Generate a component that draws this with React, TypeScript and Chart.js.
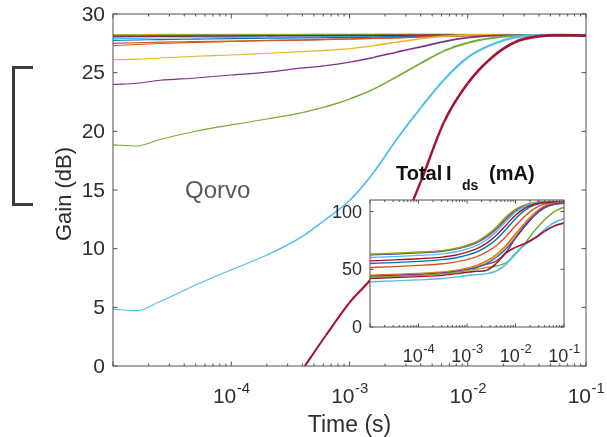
import React, { useEffect, useRef } from "react";
import { Chart, registerables } from "chart.js";

Chart.register(...registerables);

const W = 607;
const H = 437;
const FONT = '"Liberation Sans", Arial, Helvetica, sans-serif';
const AXIS_COLOR = "#505050";
const TEXT_COLOR = "#2e2e2e";

// MATLAB default colour order
const BLUE = "#0072BD";
const ORANGE = "#D95319";
const YELLOW = "#EDB120";
const PURPLE = "#7E2F8E";
const GREEN = "#77AC30";
const CYAN = "#4DBEEE";
const RED = "#A2142F";

// ---- main plot: gain vs time ----
const gainTimes = [
  1e-5, 1.6e-5, 2.5e-5, 5e-5, 1e-4, 2e-4, 4e-4, 6.3e-4, 1e-3, 1.6e-3,
  2.5e-3, 4e-3, 6.3e-3, 1e-2, 1.6e-2, 2.5e-2, 4e-2, 6.3e-2, 1e-1,
];
const gainBlue1 = [28.05, 28.06, 28.08, 28.1, 28.1, 28.12, 28.13, 28.14, 28.15, 28.16, 28.18, 28.2, 28.2, 28.2, 28.2, 28.2, 28.2, 28.18, 28.15];
const gainOrange1 = [27.3, 27.4, 27.48, 27.58, 27.65, 27.72, 27.78, 27.82, 27.86, 27.92, 27.98, 28.05, 28.12, 28.18, 28.2, 28.2, 28.2, 28.18, 28.15];
const gainYellow1 = [28.25, 28.25, 28.26, 28.26, 28.27, 28.27, 28.27, 28.28, 28.28, 28.28, 28.28, 28.28, 28.27, 28.25, 28.23, 28.22, 28.2, 28.2, 28.18];
const gainPurple1 = [28.15, 28.15, 28.16, 28.17, 28.18, 28.18, 28.19, 28.2, 28.2, 28.2, 28.21, 28.22, 28.22, 28.22, 28.21, 28.2, 28.2, 28.18, 28.16];
const gainGreen1 = [28.2, 28.2, 28.21, 28.22, 28.22, 28.23, 28.23, 28.24, 28.24, 28.24, 28.24, 28.24, 28.23, 28.22, 28.21, 28.2, 28.2, 28.18, 28.16];
const gainCyan1 = [27.9, 27.92, 27.95, 27.98, 28.0, 28.03, 28.05, 28.07, 28.09, 28.11, 28.13, 28.16, 28.18, 28.2, 28.2, 28.2, 28.2, 28.18, 28.15];
const gainRed1 = [28.1, 28.1, 28.11, 28.12, 28.13, 28.14, 28.15, 28.16, 28.17, 28.18, 28.19, 28.2, 28.2, 28.2, 28.2, 28.2, 28.2, 28.18, 28.15];
const gainBlue2 = [27.75, 27.78, 27.82, 27.86, 27.9, 27.93, 27.96, 27.98, 28.0, 28.03, 28.06, 28.1, 28.14, 28.18, 28.2, 28.2, 28.2, 28.18, 28.15];
const gainOrange2 = [27.5, 27.55, 27.6, 27.65, 27.7, 27.75, 27.8, 27.84, 27.88, 27.93, 27.98, 28.04, 28.1, 28.16, 28.2, 28.2, 28.2, 28.18, 28.15];
const gainYellow2 = [26.1, 26.15, 26.25, 26.4, 26.5, 26.65, 26.8, 26.9, 27.05, 27.3, 27.6, 27.9, 28.1, 28.22, 28.25, 28.22, 28.2, 28.18, 28.15];
const gainPurple2 = [24.0, 24.1, 24.35, 24.55, 24.8, 25.05, 25.4, 25.6, 25.9, 26.3, 26.75, 27.2, 27.65, 27.98, 28.15, 28.2, 28.2, 28.18, 28.15];
const gainGreen2 = [18.85, 18.75, 19.3, 20.0, 20.55, 21.05, 21.6, 22.1, 22.75, 23.6, 24.65, 25.8, 26.85, 27.55, 27.95, 28.15, 28.2, 28.18, 28.15];
const gainCyan2 = [4.85, 4.72, 5.5, 6.9, 8.2, 9.45, 11.05, 12.5, 14.1, 16.5, 19.3, 22.0, 24.4, 26.3, 27.4, 28.0, 28.2, 28.18, 28.15];
const gainRed2 = [null, null, null, null, null, null, -0.3, 2.6, 5.4, 7.7, 10.9, 15.7, 20.8, 24.1, 26.3, 27.6, 28.1, 28.2, 28.15];

const gainTicks = [0, 5, 10, 15, 20, 25, 30];
const timeTickLabels = [1e-4, 1e-3, 1e-2, 1e-1];

// ---- inset: total drain current vs time ----
const idsTimes = [
  1e-5, 3.2e-5, 1e-4, 3.2e-4, 6.3e-4, 1e-3, 1.6e-3, 2.5e-3,
  4e-3, 6.3e-3, 1e-2, 1.6e-2, 2.5e-2, 4e-2, 6.3e-2, 1e-1,
];
const idsBlue1 = [55.0, 55.8, 56.8, 58.3, 60.2, 62.2, 65.0, 69.4, 75.8, 84.4, 93.8, 101.4, 105.8, 107.6, 108.0, 108.0];
const idsOrange1 = [51.5, 52.3, 53.3, 54.8, 56.6, 58.4, 61.0, 64.8, 70.4, 78.2, 87.6, 96.4, 102.8, 106.4, 107.6, 107.8];
const idsYellow1 = [63.3, 64.0, 65.0, 66.4, 68.6, 70.9, 74.2, 79.4, 86.6, 95.4, 102.2, 106.0, 107.8, 108.4, 108.5, 108.5];
const idsPurple1 = [62.4, 63.2, 64.2, 65.6, 67.6, 69.8, 73.0, 77.8, 84.6, 93.4, 100.8, 105.2, 107.4, 108.2, 108.3, 108.2];
const idsGreen1 = [63.0, 63.8, 64.8, 66.2, 68.3, 70.6, 73.9, 79.0, 86.0, 94.8, 101.8, 105.8, 107.7, 108.3, 108.4, 108.4];
const idsCyan1 = [60.2, 61.0, 62.0, 63.4, 65.4, 67.6, 70.6, 75.4, 82.4, 91.2, 99.4, 104.6, 107.2, 108.0, 108.2, 108.2];
const idsRed1 = [57.3, 58.1, 59.1, 60.6, 62.6, 64.8, 67.8, 72.4, 79.2, 88.0, 96.8, 103.2, 106.6, 107.9, 108.2, 108.1];
const idsBlue2 = [43.6, 44.3, 45.2, 46.4, 47.9, 49.5, 51.7, 55.0, 60.2, 67.6, 77.2, 87.6, 96.8, 103.2, 106.2, 107.2];
const idsOrange2 = [44.8, 45.5, 46.4, 47.7, 49.3, 51.0, 53.4, 57.0, 62.6, 70.4, 80.4, 90.6, 99.0, 104.6, 107.2, 107.8];
const idsYellow2 = [44.3, 45.0, 45.9, 47.2, 48.8, 50.4, 52.7, 56.2, 61.6, 69.2, 79.0, 89.4, 98.2, 104.0, 106.8, 107.4];
const idsPurple2 = [44.0, 44.7, 45.6, 46.8, 48.3, 49.8, 51.9, 54.2, 57.0, 64.5, 77.0, 88.5, 97.2, 103.8, 106.6, 107.4];
const idsGreen2 = [43.2, 43.9, 44.8, 46.0, 47.4, 48.9, 50.0, 51.5, 52.8, 55.5, 63.0, 73.0, 83.5, 93.0, 100.0, 103.8];
const idsCyan2 = [39.2, 39.9, 40.8, 42.0, 43.4, 44.6, 45.4, 46.0, 48.5, 54.0, 64.0, 71.5, 77.0, 84.5, 90.5, 94.0];
const idsRed2 = [42.0, 42.7, 43.6, 44.8, 46.2, 47.4, 48.2, 49.0, 55.0, 64.0, 69.0, 72.5, 77.0, 83.0, 87.5, 90.0];

const idsTicks = [0, 50, 100];
const idsTimeTickLabels = [1e-4, 1e-3, 1e-2, 1e-1];

type Series = { color: string; values: (number | null)[]; thin: number; thick: number };

const gainSeries: Series[] = [
  { color: BLUE, values: gainBlue1, thin: 1.1, thick: 1.7 },
  { color: ORANGE, values: gainOrange1, thin: 1.1, thick: 1.7 },
  { color: YELLOW, values: gainYellow1, thin: 1.1, thick: 1.7 },
  { color: PURPLE, values: gainPurple1, thin: 1.1, thick: 1.7 },
  { color: GREEN, values: gainGreen1, thin: 1.1, thick: 1.7 },
  { color: CYAN, values: gainCyan1, thin: 1.1, thick: 1.7 },
  { color: RED, values: gainRed1, thin: 1.1, thick: 1.7 },
  { color: BLUE, values: gainBlue2, thin: 1.1, thick: 1.7 },
  { color: ORANGE, values: gainOrange2, thin: 1.1, thick: 1.8 },
  { color: YELLOW, values: gainYellow2, thin: 1.1, thick: 1.8 },
  { color: PURPLE, values: gainPurple2, thin: 1.1, thick: 2.0 },
  { color: GREEN, values: gainGreen2, thin: 1.1, thick: 2.2 },
  { color: CYAN, values: gainCyan2, thin: 1.1, thick: 2.5 },
  { color: RED, values: gainRed2, thin: 1.8, thick: 2.8 },
];

const idsSeries: Series[] = [
  { color: BLUE, values: idsBlue1, thin: 1.3, thick: 1.5 },
  { color: ORANGE, values: idsOrange1, thin: 1.3, thick: 1.5 },
  { color: YELLOW, values: idsYellow1, thin: 1.3, thick: 1.5 },
  { color: PURPLE, values: idsPurple1, thin: 1.3, thick: 1.5 },
  { color: GREEN, values: idsGreen1, thin: 1.3, thick: 1.5 },
  { color: CYAN, values: idsCyan1, thin: 1.3, thick: 1.5 },
  { color: RED, values: idsRed1, thin: 1.3, thick: 1.5 },
  { color: BLUE, values: idsBlue2, thin: 1.3, thick: 1.5 },
  { color: ORANGE, values: idsOrange2, thin: 1.3, thick: 1.5 },
  { color: YELLOW, values: idsYellow2, thin: 1.3, thick: 1.5 },
  { color: PURPLE, values: idsPurple2, thin: 1.3, thick: 1.5 },
  { color: GREEN, values: idsGreen2, thin: 1.3, thick: 1.5 },
  { color: CYAN, values: idsCyan2, thin: 1.3, thick: 1.6 },
  { color: RED, values: idsRed2, thin: 1.3, thick: 1.8 },
];

// Lines get denser (and look heavier) toward long times on the log axis.
function widthAt(x: number, thin: number, thick: number) {
  const f = Math.min(1, Math.max(0, (Math.log10(x) + 4) / 2.5));
  return thin + (thick - thin) * f;
}

function buildDatasets(times: number[], series: Series[]) {
  const n = series.length;
  return series.map((s, i) => ({
    data: times.map((t, k) => ({ x: t, y: s.values[k] })),
    borderColor: s.color,
    backgroundColor: s.color,
    borderWidth: s.thin,
    pointRadius: 0,
    cubicInterpolationMode: "monotone" as const,
    spanGaps: false,
    clip: 0,
    order: n - i,
    segment: {
      borderWidth: (ctx: any) => widthAt(ctx.p0.parsed.x, s.thin, s.thick),
    },
  }));
}

function strokeLine(ctx: CanvasRenderingContext2D, x1: number, y1: number, x2: number, y2: number) {
  ctx.beginPath();
  ctx.moveTo(x1, y1);
  ctx.lineTo(x2, y2);
  ctx.stroke();
}

function drawFrameAndTicks(chart: any, yTicks: number[], major: number, minor: number) {
  const ctx: CanvasRenderingContext2D = chart.ctx;
  const area = chart.chartArea;
  const xs = chart.scales.x;
  const ys = chart.scales.y;
  ctx.save();
  ctx.strokeStyle = AXIS_COLOR;
  ctx.lineWidth = 1;
  ctx.strokeRect(area.left, area.top, area.right - area.left, area.bottom - area.top);
  const eMin = Math.floor(Math.log10(xs.min) + 1e-9);
  const eMax = Math.ceil(Math.log10(xs.max) - 1e-9);
  for (let e = eMin; e <= eMax; e++) {
    for (let m = 1; m <= 9; m++) {
      const v = m * Math.pow(10, e);
      if (v < xs.min * 0.999 || v > xs.max * 1.001) continue;
      const px = xs.getPixelForValue(v);
      const len = m === 1 ? major : minor;
      strokeLine(ctx, px, area.bottom, px, area.bottom - len);
      strokeLine(ctx, px, area.top, px, area.top + len);
    }
  }
  for (const v of yTicks) {
    const py = ys.getPixelForValue(v);
    strokeLine(ctx, area.left, py, area.left + major, py);
    strokeLine(ctx, area.right, py, area.right - major, py);
  }
  ctx.restore();
}

function drawPow10(
  ctx: CanvasRenderingContext2D, cx: number, baseline: number, value: number,
  baseSize: number, expSize: number, rise: number,
) {
  const exp = String(Math.round(Math.log10(value)));
  ctx.font = `${baseSize}px ${FONT}`;
  const wb = ctx.measureText("10").width;
  ctx.font = `${expSize}px ${FONT}`;
  const we = ctx.measureText(exp).width;
  const left = cx - (wb + we) / 2;
  ctx.textAlign = "left";
  ctx.textBaseline = "alphabetic";
  ctx.font = `${baseSize}px ${FONT}`;
  ctx.fillText("10", left, baseline);
  ctx.font = `${expSize}px ${FONT}`;
  ctx.fillText(exp, left + wb + 0.5, baseline - rise);
}

const mainDecor = {
  id: "mainDecor",
  afterDraw(chart: any) {
    const ctx: CanvasRenderingContext2D = chart.ctx;
    const area = chart.chartArea;
    const xs = chart.scales.x;
    const ys = chart.scales.y;
    drawFrameAndTicks(chart, gainTicks, 4.5, 2.5);
    ctx.save();
    ctx.fillStyle = TEXT_COLOR;
    // y tick labels
    ctx.font = `21px ${FONT}`;
    ctx.textAlign = "right";
    ctx.textBaseline = "middle";
    for (const v of gainTicks) ctx.fillText(String(v), area.left - 8, ys.getPixelForValue(v) + 1);
    // x tick labels
    for (const v of timeTickLabels) drawPow10(ctx, xs.getPixelForValue(v), area.bottom + 37, v, 21, 15, 10);
    // axis titles
    ctx.font = `23px ${FONT}`;
    ctx.textAlign = "center";
    ctx.textBaseline = "alphabetic";
    ctx.fillText("Time (s)", (area.left + area.right) / 2, area.bottom + 66);
    ctx.save();
    ctx.translate(area.left - 42, (area.top + area.bottom) / 2 + 4);
    ctx.rotate(-Math.PI / 2);
    ctx.font = `22px ${FONT}`;
    ctx.fillText("Gain (dB)", 0, 0);
    ctx.restore();
    // annotation
    ctx.fillStyle = "#5a5a5a";
    ctx.font = `24px ${FONT}`;
    ctx.textAlign = "left";
    ctx.fillText("Qorvo", 185, 198);
    // bracket at the left edge
    ctx.strokeStyle = "#3a3a3a";
    ctx.lineWidth = 3;
    ctx.lineJoin = "miter";
    ctx.beginPath();
    ctx.moveTo(33, 67.5);
    ctx.lineTo(13.5, 67.5);
    ctx.lineTo(13.5, 204.5);
    ctx.lineTo(33, 204.5);
    ctx.stroke();
    ctx.restore();
  },
};

const insetDecor = {
  id: "insetDecor",
  beforeDatasetsDraw(chart: any) {
    const ctx: CanvasRenderingContext2D = chart.ctx;
    const a = chart.chartArea;
    ctx.save();
    ctx.fillStyle = "#ffffff";
    ctx.fillRect(a.left, a.top, a.right - a.left, a.bottom - a.top);
    ctx.restore();
  },
  afterDraw(chart: any) {
    const ctx: CanvasRenderingContext2D = chart.ctx;
    const area = chart.chartArea;
    const xs = chart.scales.x;
    const ys = chart.scales.y;
    drawFrameAndTicks(chart, idsTicks, 3.5, 2);
    ctx.save();
    ctx.fillStyle = TEXT_COLOR;
    ctx.font = `18px ${FONT}`;
    ctx.textAlign = "right";
    ctx.textBaseline = "middle";
    for (const v of idsTicks) ctx.fillText(String(v), area.left - 8, ys.getPixelForValue(v) + 1);
    for (const v of idsTimeTickLabels) drawPow10(ctx, xs.getPixelForValue(v), area.bottom + 35, v, 18, 13, 9);
    // title with subscript
    ctx.fillStyle = "#111111";
    ctx.textAlign = "left";
    ctx.textBaseline = "alphabetic";
    ctx.font = `bold 20px ${FONT}`;
    ctx.fillText("Total", 396, 180);
    ctx.fillText("I", 446, 180);
    ctx.font = `bold 14px ${FONT}`;
    ctx.fillText("ds", 462, 190);
    ctx.font = `bold 20px ${FONT}`;
    ctx.fillText("(mA)", 489, 180);
    ctx.restore();
  },
};

export default function App() {
  const mainRef = useRef<HTMLCanvasElement>(null);
  const insetRef = useRef<HTMLCanvasElement>(null);

  useEffect(() => {
    document.body.style.margin = "0";
    const common = {
      responsive: false,
      devicePixelRatio: 1,
      animation: false as const,
      events: [] as any[],
      plugins: { legend: { display: false }, tooltip: { enabled: false } },
    };
    const main = new Chart(mainRef.current!, {
      type: "line",
      data: { datasets: buildDatasets(gainTimes, gainSeries) as any },
      options: {
        ...common,
        layout: { padding: { left: 113, right: 21, top: 14, bottom: 71 } },
        scales: {
          x: { type: "logarithmic", min: 1e-5, max: 1e-1, display: false },
          y: { type: "linear", min: 0, max: 30, display: false },
        },
      },
      plugins: [mainDecor],
    });
    const inset = new Chart(insetRef.current!, {
      type: "line",
      data: { datasets: buildDatasets(idsTimes, idsSeries) as any },
      options: {
        ...common,
        layout: { padding: { left: 370, right: 43, top: 200, bottom: 110 } },
        scales: {
          x: { type: "logarithmic", min: 1e-5, max: 1e-1, display: false },
          y: { type: "linear", min: 0, max: 110, display: false },
        },
      },
      plugins: [insetDecor],
    });
    return () => {
      main.destroy();
      inset.destroy();
    };
  }, []);

  return (
    <div style={{ position: "relative", width: W, height: H, background: "#ffffff" }}>
      <canvas ref={mainRef} width={W} height={H} style={{ position: "absolute", left: 0, top: 0 }} />
      <canvas ref={insetRef} width={W} height={H} style={{ position: "absolute", left: 0, top: 0 }} />
    </div>
  );
}
